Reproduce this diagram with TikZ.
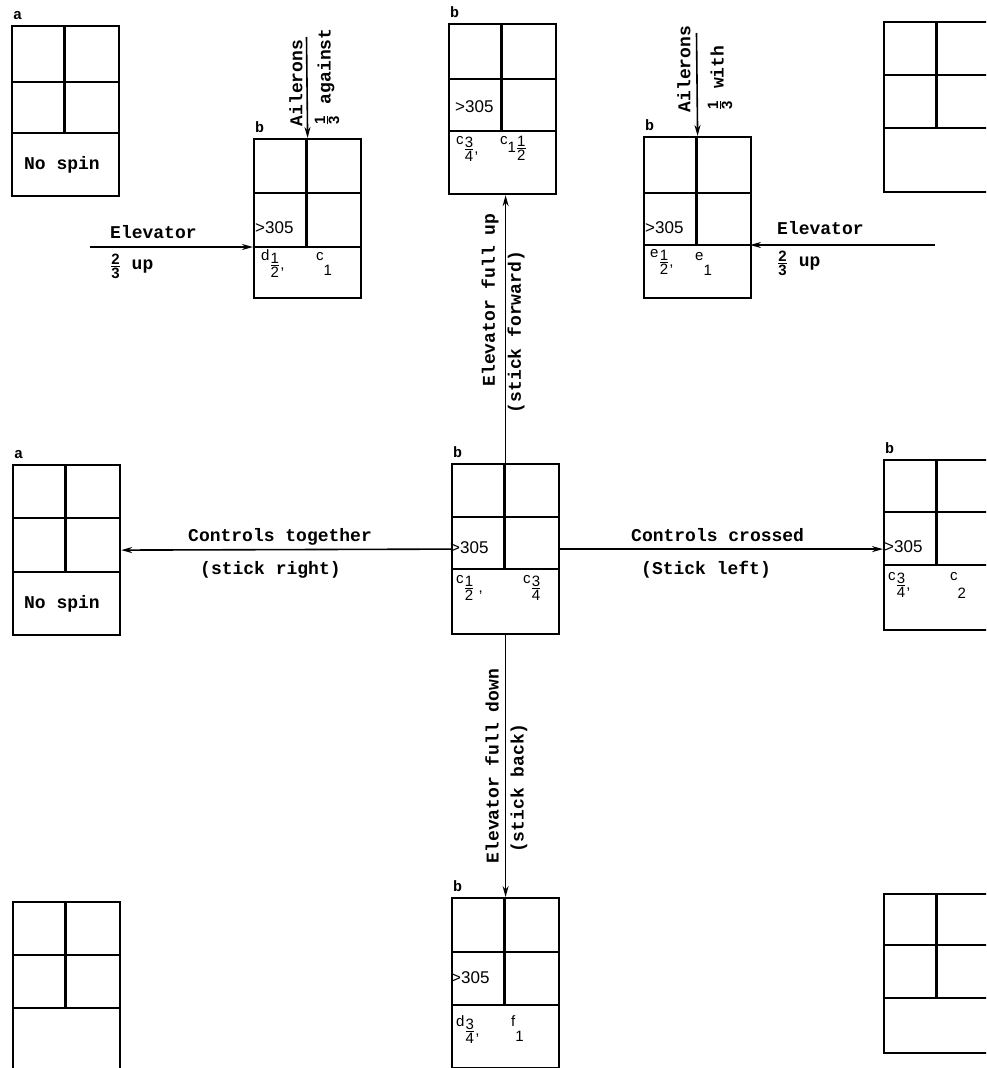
\documentclass[tikz,border=0pt]{standalone}
\usepackage{amsmath}
\usepackage{fontspec}
\usetikzlibrary{arrows.meta}
\newfontfamily\typer{Liberation Mono}
\newfontfamily\hand{Liberation Sans}
\newcommand{\fr}[2]{\ensuremath{\genfrac{}{}{1pt}{}{\mbox{#1}}{\mbox{#2}}}}
\newcommand{\hfr}[2]{{\hand\fontsize{15}{16}\selectfont\fr{#1}{#2}}}
\newcommand{\grade}[3]{#1\raisebox{#2}{#3}}
\begin{document}
\begin{tikzpicture}[x=1pt, y=-1pt, font=\typer\bfseries\fontsize{18}{20}\selectfont]
  \clip (0,0) rectangle (986,1068);
  \tikzset{
    chart/.style={draw, line width=2.2pt, minimum width=107pt, inner sep=0pt, anchor=north west},
    rule/.style={line width=2.2pt},
    boxtag/.style={font=\typer\bfseries\fontsize{15}{16}\selectfont, anchor=south west, inner sep=1pt},
    reading/.style={font=\hand\fontsize{17}{19}\selectfont, inner sep=0pt, anchor=base west},
    grd/.style={font=\hand\fontsize{15}{17}\selectfont, inner sep=0pt, anchor=north west},
    ctrl/.style={line width=1.6pt, -{Stealth[length=11pt, width=6pt]}},
    lab/.style={inner sep=1pt}
  }
  % ---- charts: name/left/top/height/first rule/second rule/letter ----
  \foreach \n/\x/\y/\h/\ra/\rb/\l in {
    A1/11/25/170/57/108/a, B1/253/138/159/55/109/b, B2/448/23/170/56/108/b,
    B3/643/136/161/57/109/b, C1/883/21/170/54/107/{}, A2/12/464/170/54/108/a,
    B0/451/463/170/54/106/b, B4/883/459/170/53/106/b, D1/12/901/170/54/107/{},
    B5/451/897/170/55/108/b, D2/883/893/159/52/105/{}} {
    \node[chart, minimum height=\h pt] (\n) at (\x,\y) {};
    \draw[rule] (\x,\y+\ra) -- (\x+107,\y+\ra);
    \draw[rule] (\x,\y+\rb) coordinate (\n-low) -- (\x+107,\y+\rb) coordinate (\n-lowE);
    \draw[rule] (\x+53.5,\y) -- (\x+53.5,\y+\rb);
    \node[boxtag] (\n-t) at (\x+1,\y-4) {\l};
  }
  % ---- readings in the charts ----
  \node[lab] (A1-s) at (62,165) {No spin};
  \node[lab] (A2-s) at (62,604) {No spin};
  \node[reading] (B1-r) at (255,233) {>305};
  \node[reading] (B2-r) at (455,112) {>305};
  \node[reading] (B3-r) at (645,233) {>305};
  \node[reading] (B0-r) at (450,553) {>305};
  \node[reading] (B4-r) at (884,552) {>305};
  \node[reading] (B5-r) at (451,983) {>305};
  \node[grd] (B1-g1) at (261,249) {\grade{d}{-0.6em}{\fr{1}{2},}};
  \node[grd] (B1-g2) at (316,252) {\grade{c}{-1em}{1}};
  \node[grd] (B2-g1) at (456,136) {\grade{c}{-0.6em}{\fr{3}{4},}};
  \node[grd] (B2-g2) at (500,136) {\grade{c}{-0.5em}{1\fr{1}{2}}};
  \node[grd] (B3-g1) at (650,249) {\grade{e}{-0.6em}{\fr{1}{2},}};
  \node[grd] (B3-g2) at (695,252) {\grade{e}{-1em}{1}};
  \node[grd] (B0-g1) at (456,575) {\grade{c}{-0.6em}{\fr{1}{2}\ ,}};
  \node[grd] (B0-g2) at (523,575) {\grade{c}{-0.6em}{\fr{3}{4}}};
  \node[grd] (B4-g1) at (888,572) {\grade{c}{-0.6em}{\fr{3}{4},}};
  \node[grd] (B4-g2) at (950,572) {\grade{c}{-1.2em}{2}};
  \node[grd] (B5-g1) at (456,1015) {\grade{d}{-0.6em}{\fr{3}{4},}};
  \node[grd] (B5-g2) at (511,1015) {\grade{f}{-1em}{1}};
  % ---- controls ----
  \coordinate (ailA) at (306.5,37);
  \coordinate (ailW) at (696.5,33);
  \coordinate (elvA) at (90,247);
  \coordinate (elvW) at (935,245);
  \draw[ctrl] (ailA) -- (B1.north);
  \draw[ctrl] (ailW) -- (B3.north);
  \draw[ctrl] (elvA) -- (B1-low);
  \draw[ctrl] (elvW) -- (B3-lowE);
  \draw[ctrl] (B0.north) -- (B0.north |- B2.south);
  \draw[ctrl] (B0.south) -- (B0.south |- B5.north);
  \draw[ctrl] (B0.west) -- (A2.east);
  \draw[ctrl] (B0.east) -- (B4.west |- B0.east);
  % ---- labels ----
  \node[lab, rotate=90] (ailA-l) at (296,83) {Ailerons};
  \node[lab, rotate=90] (ailA-r) at (327,77) {\hfr{1}{3} against};
  \node[lab, rotate=90] (ailW-l) at (684,69) {Ailerons};
  \node[lab, rotate=90] (ailW-r) at (720,78) {\hfr{1}{3} with};
  \node[lab, anchor=base west] (elvA-t) at (109,238) {Elevator};
  \node[lab, anchor=west] (elvA-b) at (109,266) {\hfr{2}{3} up};
  \node[lab, anchor=base west] (elvW-t) at (776,234) {Elevator};
  \node[lab, anchor=west] (elvW-b) at (776,263) {\hfr{2}{3} up};
  \node[lab, rotate=90] (up-l) at (490,300) {Elevator full up};
  \node[lab, rotate=90] (up-r) at (516,332) {(stick forward)};
  \node[lab, rotate=90] (dn-l) at (492,766) {Elevator full down};
  \node[lab, rotate=90] (dn-r) at (519,788) {(stick back)};
  \node[lab, anchor=base west] (tog-t) at (187,541) {Controls together};
  \node[lab, anchor=base west] (tog-b) at (199,574) {(stick right)};
  \node[lab, anchor=base west] (crs-t) at (630,541) {Controls crossed};
  \node[lab, anchor=base west] (crs-b) at (640,574) {(Stick left)};
\end{tikzpicture}
\end{document}
